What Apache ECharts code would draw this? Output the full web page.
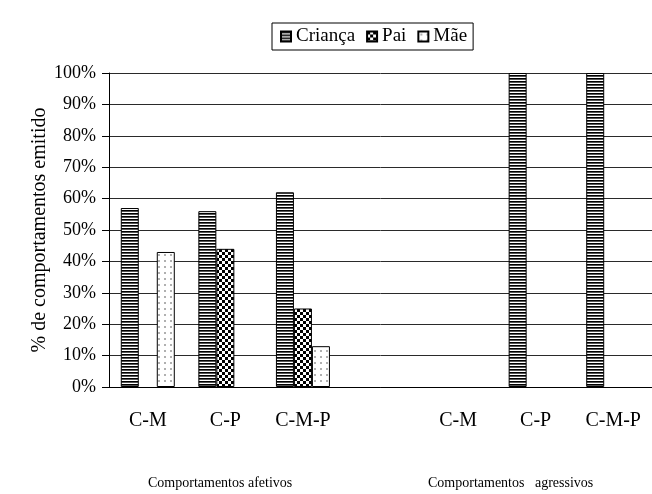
<!DOCTYPE html>
<html>
<head>
<meta charset="utf-8">
<script src="https://cdn.jsdelivr.net/npm/echarts@6/dist/echarts.min.js"></script>
<style>
  html, body { margin: 0; padding: 0; background: #fff; }
  #chart { width: 652px; height: 494px; }
</style>
</head>
<body>
<div id="chart"></div>
<script>
// Pairs observed, split into affective (first three) and aggressive (last three) behaviour
const categories = ['C-M', 'C-P', 'C-M-P', '', 'C-M', 'C-P', 'C-M-P'];
const seriesNames = ['Criança', 'Pai', 'Mãe'];
const criancaValues = [57, 56, 62, null, null, 100, 100];
const paiValues = [null, 44, 25, null, null, null, null];
const maeValues = [43, null, 13, null, null, null, null];
const groupLabels = ['Comportamentos afetivos', 'Comportamentos   agressivos'];
const yAxisTitle = '% de comportamentos emitido';

const FONT = '"Liberation Serif", "DejaVu Serif", serif';

// Fill patterns drawn on small tiles
function tile(w, h, draw) {
  const c = document.createElement('canvas');
  c.width = w; c.height = h;
  const ctx = c.getContext('2d');
  ctx.fillStyle = '#fff';
  ctx.fillRect(0, 0, w, h);
  draw(ctx);
  return { image: c, repeat: 'repeat' };
}
const stripes = tile(3, 3, ctx => {
  ctx.fillStyle = '#000'; ctx.fillRect(0, 0, 3, 1);
  ctx.fillStyle = '#555'; ctx.fillRect(0, 1, 3, 1);
});
const checker = tile(6, 6, ctx => {
  ctx.fillStyle = '#000';
  ctx.fillRect(0, 0, 3, 3);
  ctx.fillRect(3, 3, 3, 3);
});
const dots = tile(6, 6, ctx => {
  ctx.fillStyle = '#b0b0b0';
  ctx.fillRect(2, 2, 2, 2);
});

const fills = [stripes, checker, dots];
const values = [criancaValues, paiValues, maeValues];

const chart = echarts.init(document.getElementById('chart'), null, { renderer: 'canvas' });

chart.setOption({
  animation: false,
  backgroundColor: '#fff',
  textStyle: { fontFamily: FONT, color: '#000' },
  legend: {
    top: 23,
    left: 272,
    itemWidth: 10,
    itemHeight: 10,
    itemGap: 11,
    padding: [4, 6, 4, 8],
    borderColor: '#000',
    borderWidth: 1,
    borderRadius: 0,
    textStyle: { fontFamily: FONT, fontSize: 19, color: '#000', padding: [0, 0, 0, 0] },
    data: seriesNames.map(n => ({ name: n, icon: 'rect' }))
  },
  grid: { left: 109, top: 73, width: 547, height: 314 },
  xAxis: {
    type: 'category',
    data: categories,
    axisLine: { lineStyle: { color: '#000', width: 1 } },
    axisTick: { length: 6, lineStyle: { color: '#000' } },
    axisLabel: { fontFamily: FONT, fontSize: 20, color: '#000', margin: 24 }
  },
  yAxis: {
    type: 'value',
    min: 0,
    max: 100,
    interval: 10,
    name: yAxisTitle,
    nameLocation: 'middle',
    nameGap: 59,
    nameMoveOverlap: false,
    nameTextStyle: { fontFamily: FONT, fontSize: 20, color: '#000' },
    axisLine: { show: true, lineStyle: { color: '#000', width: 1 } },
    axisTick: { show: true, length: 7, lineStyle: { color: '#000' } },
    axisLabel: { fontFamily: FONT, fontSize: 18, color: '#000', margin: 13, formatter: '{value}%' },
    splitLine: { lineStyle: { color: '#2a2a2a', width: 1 } }
  },
  series: seriesNames.map((name, i) => ({
    name: name,
    type: 'bar',
    data: values[i],
    barWidth: 18,
    barGap: '0%',
    itemStyle: { color: fills[i], borderColor: '#000', borderWidth: 1 }
  })),
  graphic: [
    { type: 'text', left: 148, top: 476, style: { text: groupLabels[0], font: '14px ' + FONT, fill: '#000' } },
    { type: 'text', left: 428, top: 476, style: { text: groupLabels[1], font: '14px ' + FONT, fill: '#000' } }
  ]
});
</script>
</body>
</html>
